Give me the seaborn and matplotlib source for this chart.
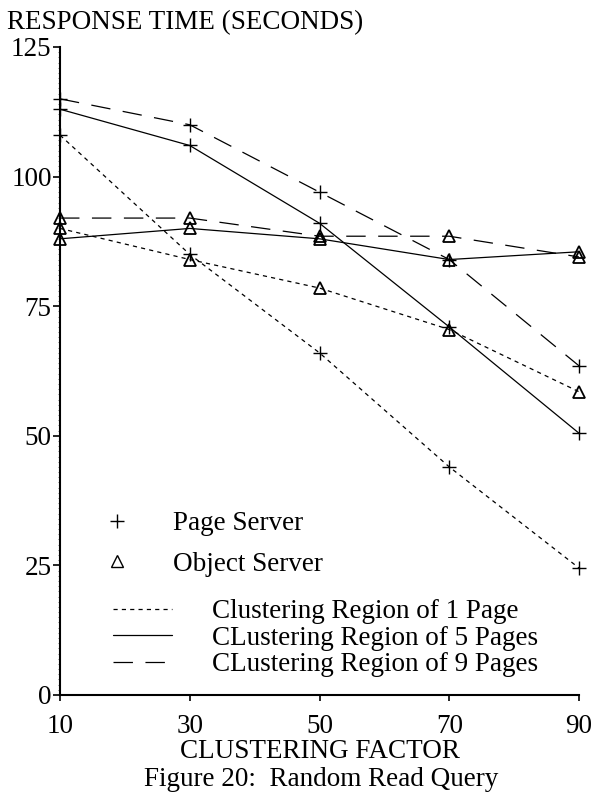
import matplotlib
matplotlib.use("Agg")
import matplotlib.pyplot as plt
from matplotlib.lines import Line2D
from matplotlib.ticker import MultipleLocator, FixedLocator
import numpy as np
import pandas as pd
import seaborn as sns

# ---------------- data ----------------
clustering_factor = [10, 30, 50, 70, 90]
page_server_1 = [108, 85, 66, 44, 24.5]
page_server_5 = [113, 106, 91, 71, 50.5]
page_server_9 = [115, 110, 97, 84, 63.5]
object_server_1 = [90, 84, 78.5, 70.5, 58.5]
object_server_5 = [88, 90, 88, 84, 85.5]
object_server_9 = [92, 92, 88.5, 88.5, 84.5]

x_ticks = [10, 30, 50, 70, 90]
y_ticks = [0, 25, 50, 75, 100, 125]
server_labels = ["Page Server", "Object Server"]
region_labels = ["Clustering Region of 1 Page",
                 "CLustering Region of 5 Pages",
                 "CLustering Region of 9 Pages"]

# long-form table
rows = []
for server, series in [("Page Server", [page_server_1, page_server_5, page_server_9]),
                       ("Object Server", [object_server_1, object_server_5, object_server_9])]:
    for region, vals in zip(region_labels, series):
        for xf, v in zip(clustering_factor, vals):
            rows.append({"factor": xf, "time": v, "server": server, "region": region})
df = pd.DataFrame(rows)

# ---------------- style ----------------
sns.set_theme(style="ticks")
plt.rcParams["font.family"] = ["Liberation Serif", "DejaVu Serif"]
plt.rcParams["lines.scale_dashes"] = False
for k in ["text.color", "axes.labelcolor", "xtick.color", "ytick.color", "axes.edgecolor"]:
    plt.rcParams[k] = "black"

FS = 19.5
W, H = 596, 793
fig = plt.figure(figsize=(W / 100, H / 100), dpi=100)
ax_left, ax_right, ax_bottom, ax_top = 60, 579, 695, 47
ax = fig.add_axes([ax_left / W, (H - ax_bottom) / H,
                   (ax_right - ax_left) / W, (ax_bottom - ax_top) / H])

line_styles = {
    region_labels[0]: (0, (3, 3)),
    region_labels[1]: "-",
    region_labels[2]: (0, (14, 9)),
}
marker_kw = {
    "Page Server": dict(marker="+", markersize=10, markeredgewidth=1.0,
                        markeredgecolor="black", markerfacecolor="black"),
    "Object Server": dict(marker="^", markersize=9, markeredgewidth=1.3,
                          markeredgecolor="black", markerfacecolor="none"),
}

for (server, region), sub in df.groupby(["server", "region"], sort=False):
    sns.lineplot(data=sub, x="factor", y="time", ax=ax, color="black",
                 linewidth=0.9, linestyle=line_styles[region],
                 clip_on=False, **marker_kw[server])

ax.set_xlim(10, 90)
ax.set_ylim(0, 125)
ax.xaxis.set_major_locator(FixedLocator(x_ticks))
ax.yaxis.set_major_locator(FixedLocator(y_ticks))
ax.yaxis.set_minor_locator(MultipleLocator(1))
ax.set_xticklabels([str(t) for t in x_ticks])
ax.set_yticklabels([str(t) for t in y_ticks])

sns.despine(ax=ax)
for s in ["left", "bottom"]:
    ax.spines[s].set_linewidth(1.5)

ax.tick_params(axis="y", which="major", direction="out", length=5, width=1.2,
               pad=1, labelsize=FS)
ax.tick_params(axis="y", which="minor", direction="out", length=1.5, width=0.4)
ax.tick_params(axis="x", which="major", direction="out", length=4.5, width=1.2,
               pad=9, labelsize=FS)

ax.set_ylabel("RESPONSE TIME (SECONDS)", rotation=0, ha="left", va="baseline",
              fontsize=FS)
ax.yaxis.set_label_coords((7 - ax_left) / (ax_right - ax_left),
                          (ax_bottom - 29) / (ax_bottom - ax_top))
ax.set_xlabel("CLUSTERING FACTOR", va="baseline", fontsize=FS)
ax.xaxis.set_label_coords(0.5, (ax_bottom - 758.5) / (ax_bottom - ax_top))
fig.text(321 / W, 1 - 786 / H, "Figure 20:  Random Read Query",
         ha="center", va="baseline", fontsize=FS)

# ---------------- legends ----------------
em = FS * 100 / 72
h1 = [Line2D([], [], ls="none", marker="+", color="black", markersize=10, markeredgewidth=1.0),
      Line2D([], [], ls="none", marker="^", markerfacecolor="none", markeredgecolor="black",
             markersize=8, markeredgewidth=1.0)]
leg1 = ax.legend(handles=h1, labels=server_labels, loc="upper left",
                 bbox_to_anchor=(103.5 / W, 1 - 511 / H), bbox_transform=fig.transFigure,
                 frameon=False, fontsize=FS, handlelength=1.0,
                 handletextpad=(173 - 103.5 - em) / em, borderpad=0, borderaxespad=0,
                 labelspacing=0.58)
ax.add_artist(leg1)

h2 = [Line2D([], [], color="black", linewidth=0.9, linestyle=line_styles[r]) for r in region_labels]
leg2 = ax.legend(handles=h2, labels=region_labels, loc="upper left",
                 bbox_to_anchor=(113 / W, 1 - 599 / H), bbox_transform=fig.transFigure,
                 frameon=False, fontsize=FS, handlelength=59 / em,
                 handletextpad=(212 - 172) / em, borderpad=0, borderaxespad=0,
                 labelspacing=0.06)

fig.savefig("out.png", dpi=100)
